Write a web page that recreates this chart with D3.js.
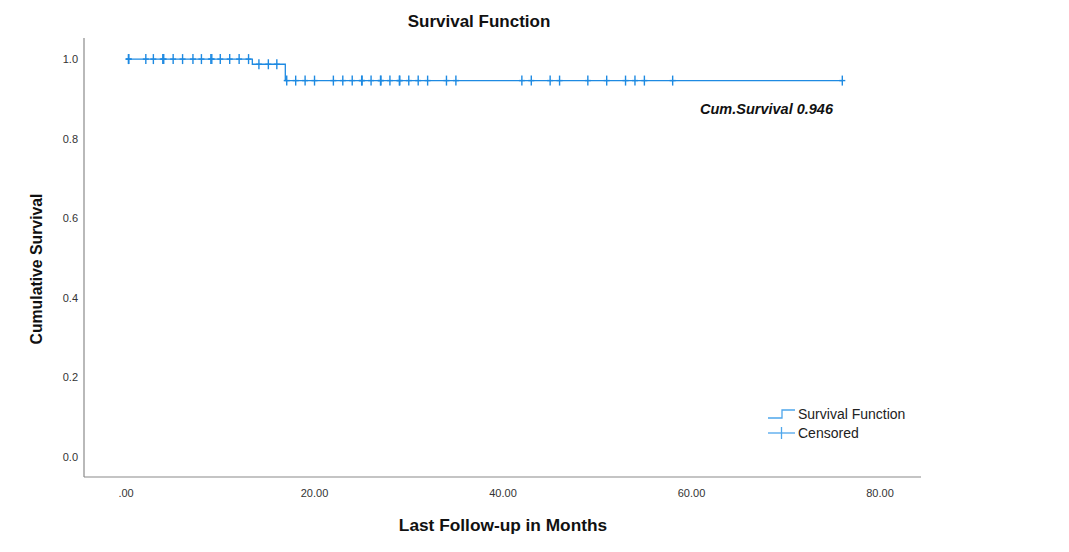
<!DOCTYPE html>
<html>
<head>
<meta charset="utf-8">
<script src="https://cdn.jsdelivr.net/npm/d3@7"></script>
<style>
  body { margin: 0; background: #fff; }
</style>
</head>
<body>
<div id="container"></div>
<script>
// step function of the survival curve
var stepTimes = [0, 13.4, 16.9];
var stepValues = [1.0, 0.987, 0.946];
var endTime = 76.0;

// censored observations (months)
var censoredTimes = [0.25, 0.3, 2.1, 2.9, 3.9, 4.0, 5.0, 6.0, 7.1, 8.0, 9.0, 9.1, 10.0, 11.0, 12.0, 13.0,
    14.1, 15.1, 16.0,
    17.05, 18.0, 19.0, 20.0, 22.0, 23.0, 24.0, 25.0, 25.05, 26.0, 27.0, 27.05, 28.0, 29.0, 29.05, 30.0, 31.0, 32.0, 34.0, 35.0,
    42.0, 43.0, 45.0, 46.0, 49.0, 51.0, 53.0, 54.0, 55.0, 58.0, 76.0];

var xTicks = [0, 20, 40, 60, 80];
var xTickLabels = [".00", "20.00", "40.00", "60.00", "80.00"];
var yTicks = [0.0, 0.2, 0.4, 0.6, 0.8, 1.0];

var width = 1069, height = 552;
var lineColor = "#1e8ae2", legendColor = "#4ea6ec";
var sans = "'Liberation Sans', Arial, sans-serif";

var svg = d3.select("#container").append("svg")
    .attr("width", width)
    .attr("height", height)
    .style("font-family", sans);

var x = d3.scaleLinear().domain([-4.46, 84.35]).range([84, 921]);
var y = d3.scaleLinear().domain([-0.0503, 1.053]).range([477, 38]);

function survivalAt(t)
{
    var s = stepValues[0];
    for (var i = 0; i < stepTimes.length; i++)
    {
        if (t >= stepTimes[i]) s = stepValues[i];
    }
    return s;
}

// axes (no tick marks, just labels)
svg.append("line")
    .attr("x1", x.range()[0]).attr("x2", x.range()[0])
    .attr("y1", y.range()[1]).attr("y2", y.range()[0])
    .attr("stroke", "#8a8a8a").attr("stroke-width", 1.2);
svg.append("line")
    .attr("x1", x.range()[0]).attr("x2", x.range()[1])
    .attr("y1", y.range()[0]).attr("y2", y.range()[0])
    .attr("stroke", "#8a8a8a").attr("stroke-width", 1.2);

svg.selectAll(".ylab").data(yTicks).enter().append("text")
    .attr("x", 78)
    .attr("y", function (d) { return y(d); })
    .attr("dy", "0.35em")
    .attr("text-anchor", "end")
    .attr("font-size", 11)
    .attr("fill", "#333")
    .text(function (d) { return d3.format(".1f")(d); });

svg.selectAll(".xlab").data(xTicks).enter().append("text")
    .attr("x", function (d) { return x(d); })
    .attr("y", 497)
    .attr("text-anchor", "middle")
    .attr("font-size", 11)
    .attr("fill", "#333")
    .text(function (d, i) { return xTickLabels[i]; });

// survival step line
var pts = [];
for (var i = 0; i < stepTimes.length; i++)
{
    pts.push([stepTimes[i], stepValues[i]]);
}
pts.push([endTime, stepValues[stepValues.length - 1]]);

var line = d3.line()
    .x(function (d) { return x(d[0]); })
    .y(function (d) { return y(d[1]); })
    .curve(d3.curveStepAfter);

svg.append("path")
    .datum(pts)
    .attr("d", line)
    .attr("fill", "none")
    .attr("stroke", lineColor)
    .attr("stroke-width", 1.3);

// censor marks
var marks = svg.append("g").attr("stroke", lineColor).attr("stroke-width", 1.4);
censoredTimes.forEach(function (t)
{
    var cx = x(t), cy = y(survivalAt(t));
    marks.append("line").attr("x1", cx).attr("x2", cx).attr("y1", cy - 5).attr("y2", cy + 5);
    marks.append("line").attr("x1", cx - 3).attr("x2", cx + 3).attr("y1", cy).attr("y2", cy);
});

// annotation
svg.append("text")
    .attr("x", 833)
    .attr("y", 114)
    .attr("text-anchor", "end")
    .attr("font-weight", "bold")
    .attr("font-style", "italic")
    .attr("font-size", 14.5)
    .attr("fill", "#111")
    .text("Cum.Survival 0.946");

// titles
svg.append("text")
    .attr("x", 479).attr("y", 27)
    .attr("text-anchor", "middle")
    .attr("font-weight", "bold")
    .attr("font-size", 17)
    .attr("fill", "#111")
    .text("Survival Function");

svg.append("text")
    .attr("x", 503).attr("y", 531)
    .attr("text-anchor", "middle")
    .attr("font-weight", "bold")
    .attr("font-size", 17.3)
    .attr("fill", "#111")
    .text("Last Follow-up in Months");

svg.append("text")
    .attr("transform", "translate(42,269) rotate(-90)")
    .attr("text-anchor", "middle")
    .attr("font-weight", "bold")
    .attr("font-size", 15.8)
    .attr("fill", "#111")
    .text("Cumulative Survival");

// legend
var lg = svg.append("g").attr("transform", "translate(768,414)");
lg.append("path")
    .attr("d", "M0,4 L14,4 L14,-4 L27,-4")
    .attr("fill", "none")
    .attr("stroke", legendColor)
    .attr("stroke-width", 1.3);
lg.append("text").attr("x", 30).attr("y", 0).attr("dy", "0.35em")
    .attr("font-size", 14).attr("fill", "#222").text("Survival Function");
lg.append("line").attr("x1", 0).attr("x2", 27).attr("y1", 19).attr("y2", 19)
    .attr("stroke", legendColor).attr("stroke-width", 1.3);
lg.append("line").attr("x1", 13.5).attr("x2", 13.5).attr("y1", 13).attr("y2", 25)
    .attr("stroke", legendColor).attr("stroke-width", 1.3);
lg.append("text").attr("x", 30).attr("y", 19).attr("dy", "0.35em")
    .attr("font-size", 14).attr("fill", "#222").text("Censored");
</script>
</body>
</html>
